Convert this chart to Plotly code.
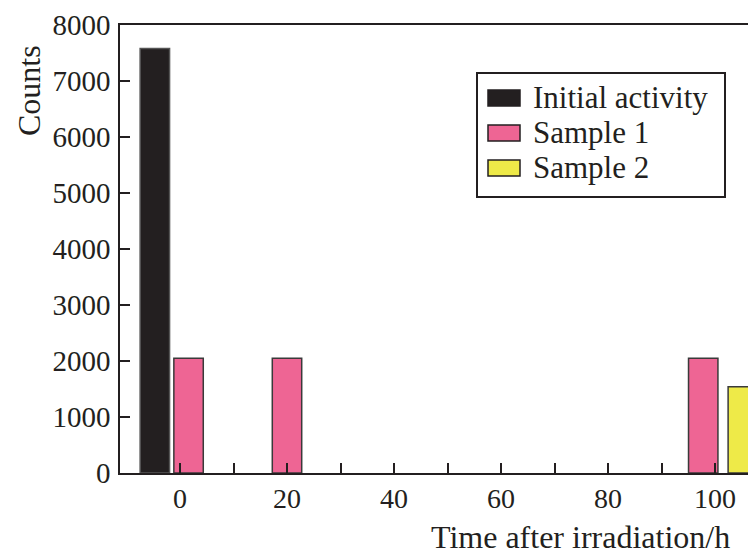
import plotly.graph_objects as go

# Data
initial_x = [-4.7]
initial_y = [7580]
sample1_x = [1.6, 20, 97.8]
sample1_y = [2050, 2050, 2050]
sample2_x = [105.2]
sample2_y = [1540]

names = ["Initial activity", "Sample 1", "Sample 2"]
colors = ["#231f20", "#ee6594", "#eeea48"]
major_ticks = [0, 20, 40, 60, 80, 100]
minor_ticks = [10, 30, 50, 70, 90]
y_ticks = [0, 1000, 2000, 3000, 4000, 5000, 6000, 7000, 8000]

ink = "#231f20"
edge = "#3a3a3a"
bar_w = 5.5
font_family = "Liberation Serif, Times New Roman, serif"

# plot area in page pixels (page has an 8px body margin)
PX0, PX1, PY0, PY1 = 120, 756, 25, 473
OFF = 8
W, H = 756, 552
X0_PIX, X_SCALE = 180, 5.35  # pixel of x=0 and pixels per hour


def px(x):
    return (x - PX0) / (PX1 - PX0)


def py(y):
    return (PY1 - y) / (PY1 - PY0)


fig = go.Figure()
series = [(initial_x, initial_y), (sample1_x, sample1_y), (sample2_x, sample2_y)]
for (xs, ys), nm, c in zip(series, names, colors):
    fig.add_trace(go.Bar(x=xs, y=ys, width=bar_w, name=nm, showlegend=False,
                         marker=dict(color=c, line=dict(color=edge if c != ink else "#555555",
                                                        width=1.5))))

# legend drawn as a boxed key
shapes = [dict(type="rect", xref="paper", yref="paper",
               x0=px(477), x1=px(725), y0=py(197), y1=py(73),
               line=dict(color=ink, width=2), fillcolor="white", layer="above")]
annotations = []
row_y = [98, 133, 168]
for ry, nm, c in zip(row_y, names, colors):
    shapes.append(dict(type="rect", xref="paper", yref="paper",
                       x0=px(488), x1=px(520), y0=py(ry + 8), y1=py(ry - 8),
                       line=dict(color=ink, width=1.5), fillcolor=c, layer="above"))
    annotations.append(dict(text=nm, xref="paper", yref="paper",
                            x=px(531), y=py(ry - 1), xanchor="left", yanchor="middle",
                            showarrow=False,
                            font=dict(family=font_family, size=31, color=ink)))

annotations += [
    dict(text="Time after irradiation/h", xref="paper", yref="paper",
         x=px(732), y=py(537), xanchor="right", yanchor="middle",
         showarrow=False, font=dict(family=font_family, size=32, color=ink)),
    dict(text="Counts", xref="paper", yref="paper", textangle=-90,
         x=px(29), y=py(91), xanchor="center", yanchor="middle",
         showarrow=False, font=dict(family=font_family, size=32, color=ink)),
]

x_range = [(PX0 - X0_PIX) / X_SCALE, (PX1 - X0_PIX) / X_SCALE]

fig.update_layout(
    width=W, height=H,
    margin=dict(l=PX0 - OFF, r=W - (PX1 - OFF), t=PY0 - OFF, b=H - (PY1 - OFF)),
    paper_bgcolor="white", plot_bgcolor="white",
    barmode="overlay",
    font=dict(family=font_family, size=28, color=ink),
    showlegend=False,
    shapes=shapes,
    annotations=annotations,
    xaxis=dict(range=x_range, showgrid=False, zeroline=False,
               automargin=False,
               showline=True, linecolor=ink, linewidth=1.5, mirror=True,
               tickmode="array", tickvals=major_ticks,
               ticks="inside", ticklen=10, tickwidth=1.5, tickcolor=ink,
               minor=dict(tickvals=minor_ticks, ticks="inside",
                          ticklen=10, tickwidth=1.5, tickcolor=ink),
               tickfont=dict(family=font_family, size=28, color=ink)),
    yaxis=dict(range=[0, 8000], showgrid=False, zeroline=False,
               automargin=False,
               showline=True, linecolor=ink, linewidth=1.5, mirror=False,
               tickmode="array", tickvals=y_ticks,
               ticks="inside", ticklen=10, tickwidth=1.5, tickcolor=ink,
               ticklabelstandoff=2,
               tickfont=dict(family=font_family, size=29, color=ink)),
)

fig.write_html("out.html")
